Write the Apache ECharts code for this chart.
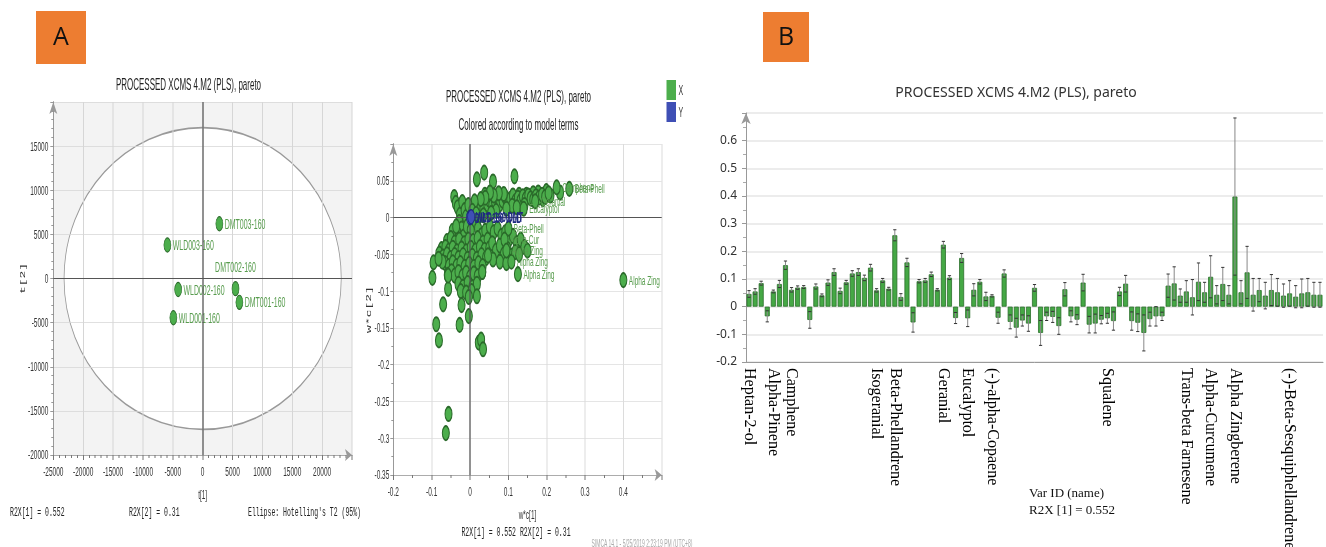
<!doctype html>
<html lang="en">
<head>
<meta charset="utf-8">
<title>PROCESSED XCMS 4.M2 (PLS), pareto</title>
<script src="https://cdn.jsdelivr.net/npm/echarts@6/dist/echarts.min.js"></script>
<style>
  html, body { margin: 0; padding: 0; background: #fff; }
  #wrap { position: relative; width: 1326px; height: 547px; overflow: hidden; }
  #chartB { position: absolute; left: 0; top: 0; width: 1326px; height: 547px; }
  /* the SIMCA panels are a horizontally squeezed screenshot, so panel A is drawn wide and squeezed */
  #chartA { position: absolute; left: 0; top: 0; width: 1400px; height: 547px;
            transform: scaleX(0.5); transform-origin: 0 0; z-index: 2; }
</style>
</head>
<body>
<div id="wrap">
  <div id="chartB"></div>
  <div id="chartA"></div>
</div>
<script>
// ---------- A (left): score plot t[1] / t[2] ----------
var scoreNames = ['DMT003-160', 'WLD003-160', 'WLD002-160', 'DMT002-160', 'DMT001-160', 'WLD001-160'];
var scoreT1 = [2800, -5900, -4100, 5500, 6150, -4900];
var scoreT2 = [6200, 3800, -1250, -1150, -2700, -4450];
var ellipseRx = 23200;   // Hotelling's T2 (95%)
var ellipseRy = 17100;

// ---------- A (right): loadings w*c[1] / w*c[2] ----------
var loadX = [
  // scattered top
  [0.018,0.052],[0.037,0.061],[0.06,0.049],[0.116,0.056],[-0.041,0.028],[-0.037,0.02],[0.039,0.031],
  [0.178,0.034],[0.147,0.031],[0.128,0.031],[0.165,0.033],[0.199,0.036],[0.21,0.03],[0.235,0.034],[0.19,0.025],
  // rising band
  [0.015,0.01],[0.025,0.016],[0.035,0.012],[0.045,0.018],[0.05,0.024],[0.058,0.016],[0.065,0.022],[0.072,0.027],
  [0.078,0.018],[0.085,0.023],[0.092,0.028],[0.098,0.02],[0.105,0.025],[0.112,0.03],[0.118,0.022],[0.125,0.027],
  [0.132,0.023],[0.138,0.029],[0.145,0.025],[0.152,0.03],[0.158,0.026],[0.165,0.024],[0.172,0.029],[0.18,0.027],
  [0.188,0.031],[0.196,0.028],[0.205,0.033],[0.088,0.032],[0.075,0.033],[0.062,0.03],[0.052,0.034],[0.04,0.027],
  [0.028,0.025],[0.012,0.022],[0.11,0.016],[0.122,0.014],[0.142,0.017],[0.068,0.009],[0.095,0.012],[0.055,0.006],
  [0.035,0.003],[0.022,0.0],
  // column near the y axis
  [-0.032,0.014],[-0.026,0.004],[-0.02,0.021],[-0.014,0.01],[-0.028,-0.006],[-0.022,-0.015],[-0.01,0.001],
  [-0.004,0.017],[0.006,0.009],[0.011,-0.006],[-0.033,-0.021],[-0.017,-0.026],[-0.008,-0.012],[0.002,-0.018],[0.016,0.005],
  // main lower mass
  [-0.045,-0.018],[-0.036,-0.012],[0.021,-0.015],[0.03,-0.024],[0.04,-0.018],
  [-0.06,-0.032],[-0.05,-0.028],[-0.04,-0.034],[-0.028,-0.03],[-0.015,-0.035],[-0.004,-0.03],[0.008,-0.032],
  [0.02,-0.028],[0.034,-0.034],[0.046,-0.03],
  [-0.074,-0.043],[-0.064,-0.04],[-0.055,-0.045],[-0.045,-0.041],[-0.034,-0.046],[-0.022,-0.042],[-0.01,-0.046],
  [0.002,-0.041],[0.014,-0.045],[0.026,-0.04],[0.038,-0.044],[0.05,-0.042],
  [-0.08,-0.049],[-0.07,-0.053],[-0.06,-0.05],[-0.05,-0.055],[-0.04,-0.051],[-0.03,-0.055],[-0.018,-0.051],
  [-0.006,-0.056],[0.006,-0.052],[0.018,-0.056],[0.03,-0.051],[0.042,-0.055],
  [-0.065,-0.062],[-0.055,-0.066],[-0.045,-0.061],[-0.035,-0.066],[-0.025,-0.062],[-0.014,-0.067],[-0.002,-0.063],
  [0.01,-0.067],[0.022,-0.062],[0.033,-0.066],
  [-0.058,-0.078],[-0.048,-0.073],[-0.04,-0.079],[-0.03,-0.074],[-0.02,-0.08],[-0.01,-0.075],[0.0,-0.081],
  [0.01,-0.076],[0.02,-0.08],[0.032,-0.074],
  [-0.03,-0.09],[-0.018,-0.094],[-0.006,-0.089],[0.006,-0.095],[0.018,-0.09],[-0.024,-0.1],[-0.01,-0.102],[0.004,-0.1],
  // lower band to the right
  [0.052,-0.012],[0.062,-0.02],[0.072,-0.015],[0.082,-0.025],[0.092,-0.02],[0.102,-0.03],[0.112,-0.025],
  [0.122,-0.035],[0.132,-0.03],[0.142,-0.04],[0.058,-0.035],[0.068,-0.045],[0.078,-0.038],[0.088,-0.05],
  [0.098,-0.043],[0.108,-0.052],[0.118,-0.047],[0.06,-0.057],[0.078,-0.06],[0.095,-0.062],[0.128,-0.05],[0.15,-0.045],
  // outliers
  [-0.095,-0.061],[-0.098,-0.082],[-0.057,-0.097],[-0.07,-0.118],[-0.088,-0.145],[-0.081,-0.167],[-0.027,-0.146],
  [-0.022,-0.119],[-0.003,-0.134],[-0.003,-0.108],[0.018,-0.107],[0.023,-0.17],[0.029,-0.166],[0.034,-0.179],
  [-0.056,-0.267],[-0.063,-0.293],[0.032,-0.074],[0.047,-0.0515],[-0.057,-0.079],[-0.072,-0.06],[-0.082,-0.056]
];
var loadLabelNames = ['Eucalyptol', 'Geranial', 'Beta-Phell', 'Alpha-Cur', 'Alpha Zing', 'Alpha Zing',
                      'Alpha Zing', 'Camphene', 'Beta-Phell', 'Alpha Zing'];
var loadLabelPts = [[0.14,0.012],[0.17,0.022],[0.1,-0.015],[0.09,-0.03],[0.095,-0.045],[0.108,-0.06],
                    [0.125,-0.077],[0.226,0.041],[0.259,0.039],[0.4,-0.085]];
var loadYNames = ['DMT-160 WLD', 'WLD-160 DMT'];
var loadYPts = [[0.0, 0.0], [0.003, 0.001]];

// ---------- B: coefficients with error bars ----------
var coefValues = [
  0.046,0.055,0.085,-0.035,0.055,0.082,0.150,0.061,0.069,0.071,-0.048,0.073,0.041,0.087,0.125,0.057,
  0.088,0.120,0.125,0.104,0.141,0.059,0.095,0.065,0.258,0.035,0.160,-0.057,0.092,0.095,0.117,0.061,
  0.224,0.105,-0.041,0.176,-0.042,0.061,0.090,0.037,0.039,-0.040,0.120,-0.055,-0.076,-0.050,-0.061,0.068,
  -0.095,-0.035,-0.037,-0.070,0.063,-0.035,-0.047,0.087,-0.065,-0.061,-0.047,-0.042,-0.052,0.055,0.083,-0.052,
  -0.058,-0.095,-0.045,-0.035,-0.035,0.076,0.084,0.040,0.055,0.034,0.090,0.052,0.108,0.043,0.082,0.043,
  0.398,0.052,0.124,0.043,0.060,0.040,0.060,0.052,0.040,0.048,0.036,0.048,0.052,0.043,0.043
];
var coefErr = [
  0.012,0.010,0.007,0.020,0.005,0.013,0.015,0.008,0.006,0.005,0.030,0.009,0.005,0.010,0.012,0.010,
  0.007,0.010,0.012,0.010,0.012,0.006,0.007,0.005,0.020,0.012,0.015,0.035,0.006,0.007,0.008,0.004,
  0.012,0.007,0.020,0.016,0.030,0.022,0.008,0.015,0.004,0.020,0.013,0.025,0.034,0.020,0.028,0.012,
  0.045,0.015,0.020,0.030,0.024,0.020,0.018,0.030,0.030,0.034,0.015,0.018,0.033,0.015,0.030,0.033,
  0.032,0.065,0.025,0.035,0.015,0.042,0.060,0.024,0.039,0.064,0.068,0.036,0.076,0.033,0.060,0.033,
  0.284,0.042,0.094,0.059,0.042,0.048,0.056,0.050,0.042,0.046,0.040,0.052,0.050,0.045,0.045
];
var labelIdx = [0, 4, 7, 21, 24, 32, 36, 40, 59, 72, 76, 80, 89];
var labelNames = ['Heptan-2-ol', 'Alpha-Pinene', 'Camphene', 'Isogeranial', 'Beta-Phellandrene', 'Geranial',
  'Eucalyptol', '(-)-alpha-Copaene', 'Squalene', 'Trans-beta Farnesene', 'Alpha-Curcumene',
  'Alpha Zingberene', '(-)-Beta-Sesquiphellandrene'];

var green = '#4cae4c', greenEdge = '#2a6a2a', greenText = '#589c4e';
var sans = '"Liberation Sans", Arial, sans-serif';
var mono = '"Liberation Mono", "DejaVu Sans Mono", monospace';
var serif = '"Liberation Serif", "Times New Roman", serif';

function plain(v) { return String(v); }

// unit ellipse as four cubic curves, stretched onto the data radii below
var K = 0.5523;
var unitEllipse = 'M -1 0 C -1 -' + K + ' -' + K + ' -1 0 -1 C ' + K + ' -1 1 -' + K + ' 1 0 ' +
                  'C 1 ' + K + ' ' + K + ' 1 0 1 C -' + K + ' 1 -1 ' + K + ' -1 0 Z';

// ================= chart A (squeezed 0.5 horizontally) =================
// vertical strokes lose half their width in the squeeze, so they get width 2
var chartA = echarts.init(document.getElementById('chartA'), null, { renderer: 'svg' });

var tickStyle = { lineStyle: { color: '#777' } };
var crossLines = {
  silent: true, symbol: ['none', 'none'], label: { show: false }, animation: false,
  lineStyle: { color: '#555', type: 'solid', width: 1.2 },
  data: [{ xAxis: 0, lineStyle: { width: 2.4 } }, { yAxis: 0 }]
};
var optionA = {
  backgroundColor: 'transparent',
  animation: false,
  title: [
    { text: 'PROCESSED XCMS 4.M2 (PLS), pareto', left: 372, top: 72, textAlign: 'center',
      textStyle: { fontFamily: sans, fontSize: 16, fontWeight: 'normal', color: '#222' } },
    { text: 'PROCESSED XCMS 4.M2 (PLS), pareto', left: 1032, top: 84, textAlign: 'center',
      textStyle: { fontFamily: sans, fontSize: 16, fontWeight: 'normal', color: '#222' } },
    { text: 'Colored according to model terms', left: 1032, top: 112, textAlign: 'center',
      textStyle: { fontFamily: sans, fontSize: 16, fontWeight: 'normal', color: '#222' } }
  ],
  legend: {
    left: 1333, top: 80, orient: 'vertical', icon: 'rect', itemWidth: 19, itemHeight: 20, itemGap: 2,
    padding: 0, selectedMode: false,
    textStyle: { fontFamily: sans, fontSize: 14, color: '#333' },
    data: [{ name: 'X', itemStyle: { color: green, borderWidth: 0 } },
           { name: 'Y', itemStyle: { color: '#3f4fb5', borderWidth: 0 } }]
  },
  grid: [
    { left: 106.6, top: 102, width: 597.4, height: 353, outerBoundsMode: 'none' },
    { left: 786.6, top: 144, width: 536.8, height: 331, outerBoundsMode: 'none' }
  ],
  xAxis: [
    { gridIndex: 0, type: 'value', min: -25000, max: 25000, interval: 5000, z: 2,
      name: 't[1]', nameLocation: 'middle', nameGap: 33,
      nameTextStyle: { fontFamily: sans, fontSize: 13, color: '#333' },
      axisLine: { onZero: false, symbol: ['none', 'arrow'], symbolSize: [9, 14], lineStyle: { color: '#999' } },
      axisTick: { length: 5, lineStyle: { color: '#777', width: 2 } },
      minorTick: { show: true, splitNumber: 5, length: 3, lineStyle: { color: '#777', width: 2 } },
      splitLine: { lineStyle: { color: '#d6d6d6', width: 2 } },
      axisLabel: { showMaxLabel: false, formatter: plain, fontFamily: sans, fontSize: 13, color: '#333', margin: 10 } },
    { gridIndex: 1, type: 'value', min: -0.2, max: 0.5, interval: 0.1,
      name: 'w*c[1]', nameLocation: 'middle', nameGap: 33,
      nameTextStyle: { fontFamily: sans, fontSize: 13, color: '#333' },
      axisLine: { onZero: false, symbol: ['none', 'arrow'], symbolSize: [9, 14], lineStyle: { color: '#999' } },
      axisTick: { length: 5, lineStyle: { color: '#777', width: 2 } },
      minorTick: { show: true, splitNumber: 2, length: 3, lineStyle: { color: '#777', width: 2 } },
      splitLine: { lineStyle: { color: '#dcdcdc', width: 2 } },
      axisLabel: { showMaxLabel: false, fontFamily: sans, fontSize: 13, color: '#333', margin: 10 } }
  ],
  yAxis: [
    { gridIndex: 0, type: 'value', min: -20000, max: 20000, interval: 5000, z: 2,
      name: 't[2]', nameLocation: 'middle', nameGap: 52,
      nameTextStyle: { fontFamily: mono, fontSize: 13, color: '#333' },
      axisLine: { onZero: false, symbol: ['none', 'arrow'], symbolSize: [12, 12], lineStyle: { color: '#999', width: 2 } },
      axisTick: { length: 6, lineStyle: { color: '#777' } },
      minorTick: Object.assign({ show: true, splitNumber: 5, length: 4 }, tickStyle),
      splitLine: { lineStyle: { color: '#d6d6d6' } },
      axisLabel: { showMaxLabel: false, formatter: plain, fontFamily: sans, fontSize: 13, color: '#333', margin: 10 } },
    { gridIndex: 1, type: 'value', min: -0.35, max: 0.1, interval: 0.05,
      name: 'w*c[2]', nameLocation: 'middle', nameGap: 42,
      nameTextStyle: { fontFamily: mono, fontSize: 13, color: '#333' },
      axisLine: { onZero: false, symbol: ['none', 'arrow'], symbolSize: [12, 12], lineStyle: { color: '#999', width: 2 } },
      axisTick: { length: 6, lineStyle: { color: '#777' } },
      minorTick: Object.assign({ show: true, splitNumber: 2, length: 4 }, tickStyle),
      splitLine: { lineStyle: { color: '#dcdcdc' } },
      axisLabel: { showMaxLabel: false, fontFamily: sans, fontSize: 13, color: '#333', margin: 8 } }
  ],
  graphic: [
    { type: 'text', x: 20, y: 512, style: { text: 'R2X[1] = 0.552', font: '13px ' + mono, fill: '#222', verticalAlign: 'middle' } },
    { type: 'text', x: 258, y: 512, style: { text: 'R2X[2] = 0.31', font: '13px ' + mono, fill: '#222', verticalAlign: 'middle' } },
    { type: 'text', x: 496, y: 512, style: { text: "Ellipse: Hotelling's T2 (95%)", font: '13px ' + mono, fill: '#222', verticalAlign: 'middle' } },
    { type: 'text', x: 1032, y: 532, style: { text: 'R2X[1] = 0.552 R2X[2] = 0.31', font: '13px ' + mono, fill: '#222', align: 'center', verticalAlign: 'middle' } },
    { type: 'text', x: 1284, y: 544, style: { text: 'SIMCA 14.1 - 5/25/2019 2:23:19 PM (UTC+8)', font: '10px ' + sans, fill: '#aaa', align: 'center', verticalAlign: 'middle' } }
  ],
  series: [
    { // grey plot area with the white Hotelling ellipse on it, kept under the split lines
      type: 'custom', xAxisIndex: 0, yAxisIndex: 0, z: -5, silent: true, clip: false,
      data: [[0, 0]],
      renderItem: function (params, api) {
        var c = api.coord([api.value(0), api.value(1)]);
        var s = api.size([ellipseRx, ellipseRy]);
        var cs = params.coordSys;
        return {
          type: 'group',
          children: [
            { type: 'rect', z2: 0, shape: { x: cs.x, y: cs.y, width: cs.width, height: cs.height },
              style: { fill: '#f3f3f3' } },
            { type: 'path', z2: 1,
              shape: { pathData: unitEllipse, layout: 'cover',
                       x: c[0] - s[0], y: c[1] - s[1], width: 2 * s[0], height: 2 * s[1] },
              style: { fill: '#fff', stroke: '#999', lineWidth: 1.6 } }
          ]
        };
      }
    },
    {
      type: 'scatter', name: 'scores', xAxisIndex: 0, yAxisIndex: 0, z: 4,
      symbol: 'circle', symbolSize: 14,
      itemStyle: { color: green, borderColor: greenEdge, borderWidth: 1.2, opacity: 1 },
      label: { show: true, formatter: '{b}', fontFamily: sans, fontSize: 14, color: greenText, distance: 3 },
      data: scoreNames.map(function (n, i) {
        return { name: n, value: [scoreT1[i], scoreT2[i]],
                 label: { position: n === 'DMT002-160' ? 'top' : 'right', distance: n === 'DMT002-160' ? 7 : 3 } };
      }),
      markLine: crossLines
    },
    {
      type: 'scatter', name: 'X', xAxisIndex: 1, yAxisIndex: 1, z: 4,
      symbol: 'circle', symbolSize: 14,
      itemStyle: { color: green, borderColor: greenEdge, borderWidth: 2, opacity: 1 },
      data: loadX,
      markLine: crossLines
    },
    {
      type: 'scatter', name: 'X', xAxisIndex: 1, yAxisIndex: 1, z: 5,
      symbol: 'circle', symbolSize: 14,
      itemStyle: { color: green, borderColor: greenEdge, borderWidth: 2, opacity: 1 },
      label: { show: true, position: 'right', distance: 3, formatter: '{b}', fontFamily: sans, fontSize: 13, color: greenText },
      data: loadLabelPts.map(function (p, i) { return { name: loadLabelNames[i], value: p }; })
    },
    {
      type: 'scatter', name: 'Y', xAxisIndex: 1, yAxisIndex: 1, z: 6,
      symbol: 'circle', symbolSize: 14,
      itemStyle: { color: '#3f4fb5', borderColor: '#1f2a80', borderWidth: 1.5, opacity: 1 },
      label: { show: true, position: 'right', distance: 2, formatter: '{b}', fontFamily: sans, fontSize: 14,
               fontWeight: 'bold', color: '#1f2a80' },
      data: loadYPts.map(function (p, i) { return { name: loadYNames[i], value: p }; })
    }
  ]
};
chartA.setOption(optionA);

// ================= chart B =================
var chartB = echarts.init(document.getElementById('chartB'));

var categories = coefValues.map(function (v, i) { return String(i + 1); });
var errData = coefValues.map(function (v, i) { return [i, v - coefErr[i], v + coefErr[i]]; });

var optionB = {
  backgroundColor: '#fff',
  animation: false,
  title: {
    text: 'PROCESSED XCMS 4.M2 (PLS), pareto', left: 1011, top: 81, textAlign: 'center',
    textStyle: { fontFamily: '"Noto Sans", "Open Sans", sans-serif', fontSize: 14, fontWeight: 'normal', color: '#333' }
  },
  grid: { left: 746, top: 113, width: 577, height: 249, outerBoundsMode: 'none' },
  xAxis: {
    type: 'category', data: categories,
    axisLine: { onZero: false, lineStyle: { color: '#999' } },
    axisTick: { alignWithLabel: true, interval: 3, length: 4, lineStyle: { color: '#999' } },
    axisLabel: {
      interval: 0, rotate: -90, margin: 6, fontFamily: serif, fontSize: 16, color: '#000',
      formatter: function (val, idx) {
        var k = labelIdx.indexOf(idx);
        return k >= 0 ? labelNames[k] : '';
      }
    },
    splitLine: { show: false }
  },
  yAxis: {
    type: 'value', min: -0.2, max: 0.7, interval: 0.1,
    axisLine: { show: true, onZero: false, symbol: ['none', 'arrow'], symbolSize: [7, 11], lineStyle: { color: '#999' } },
    axisTick: { show: true, length: 4, lineStyle: { color: '#999' } },
    minorTick: { show: true, splitNumber: 2, length: 3, lineStyle: { color: '#aaa' } },
    splitLine: { lineStyle: { color: '#e6e6e6', width: 1.5 } },
    axisLabel: { showMaxLabel: false, fontFamily: '"Noto Sans", "Open Sans", sans-serif', fontSize: 12, color: '#333', margin: 9 }
  },
  graphic: [
    { type: 'rect', shape: { x: 36, y: 11, width: 50, height: 53 }, style: { fill: '#ed7d31' } },
    { type: 'text', x: 61, y: 38, style: { text: 'A', font: '25px "Open Sans", sans-serif', fill: '#111', align: 'center', verticalAlign: 'middle' } },
    { type: 'rect', shape: { x: 763, y: 12, width: 46, height: 50 }, style: { fill: '#ed7d31' } },
    { type: 'text', x: 786, y: 38, style: { text: 'B', font: '25px "Open Sans", sans-serif', fill: '#111', align: 'center', verticalAlign: 'middle' } },
    { type: 'text', x: 1029, y: 494, style: { text: 'Var ID (name)', font: '13px ' + serif, fill: '#111', verticalAlign: 'middle' } },
    { type: 'text', x: 1029, y: 511, style: { text: 'R2X [1] = 0.552', font: '13px ' + serif, fill: '#111', verticalAlign: 'middle' } }
  ],
  series: [
    {
      type: 'bar', data: coefValues, barWidth: 5,
      itemStyle: { color: '#45a845', borderColor: '#2b6e2b', borderWidth: 0.8 }
    },
    {
      type: 'custom', data: errData, z: 3, silent: true,
      encode: { x: 0, y: [1, 2] },
      renderItem: function (params, api) {
        var lo = api.coord([api.value(0), api.value(1)]);
        var hi = api.coord([api.value(0), api.value(2)]);
        var w = 1.6;
        return {
          type: 'group',
          children: [
            { type: 'line', shape: { x1: lo[0], y1: lo[1], x2: hi[0], y2: hi[1] }, style: { stroke: '#888', lineWidth: 1 } },
            { type: 'line', shape: { x1: lo[0] - w, y1: lo[1], x2: lo[0] + w, y2: lo[1] }, style: { stroke: '#333', lineWidth: 1 } },
            { type: 'line', shape: { x1: hi[0] - w, y1: hi[1], x2: hi[0] + w, y2: hi[1] }, style: { stroke: '#333', lineWidth: 1 } }
          ]
        };
      }
    }
  ]
};
chartB.setOption(optionB);
</script>
</body>
</html>
